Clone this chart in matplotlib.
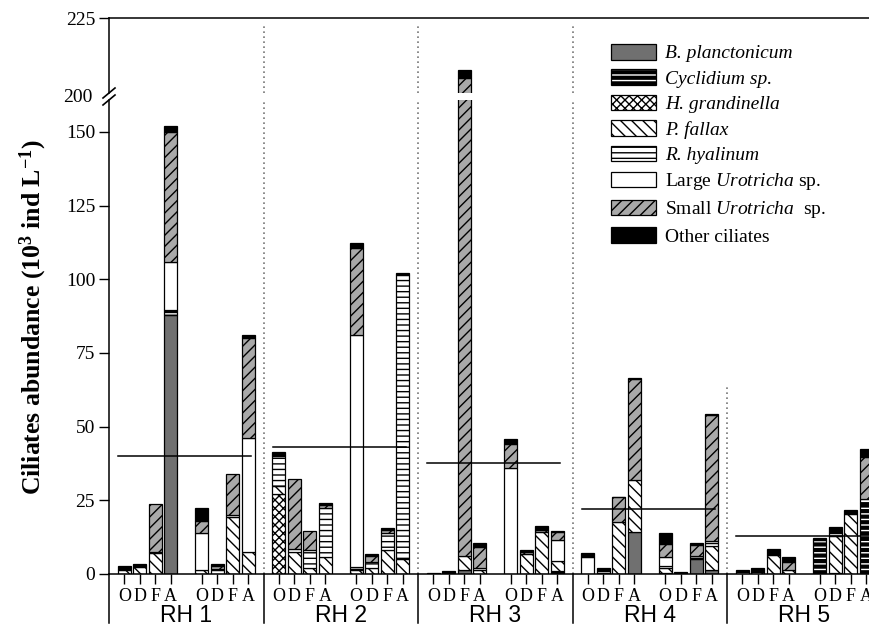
import numpy as np
import matplotlib as mpl
mpl.use('Agg')
import matplotlib.pyplot as plt
from matplotlib.patches import Patch
from matplotlib.lines import Line2D

plt.rcParams['font.family'] = 'Liberation Serif'
plt.rcParams['mathtext.fontset'] = 'custom'
plt.rcParams['mathtext.rm'] = 'Liberation Serif'
plt.rcParams['mathtext.it'] = 'Liberation Serif:italic'
plt.rcParams['mathtext.bf'] = 'Liberation Serif:bold'
plt.rcParams['hatch.linewidth'] = 1.0

# data: 5 sites x 2 sets x (O, D, F, A), in 10^3 ind/L
groups = ['RH 1', 'RH 2', 'RH 3', 'RH 4', 'RH 5']
months = ['O', 'D', 'F', 'A']
b_planctonicum = [0, 0, 0, 88, 0, 0, 0, 0, 0, 0, 0, 0, 0, 0, 0, 0, 0, 0, 1.2, 0,
                  0, 0, 0, 0.5, 0, 0, 0, 14.4, 0.5, 0, 5, 1.5, 0, 0, 0, 0, 0, 0, 0, 0]
cyclidium = [0, 0, 0, 1.5, 0, 0, 0, 0, 0, 0, 0, 0, 0, 0, 0, 0, 0, 0, 0, 0,
             0, 0, 0, 0.5, 0, 0, 0, 0, 0, 0, 0, 0, 0, 0, 0, 0, 11.5, 0.5, 0, 24]
h_grandinella = [0, 0, 0, 0, 0, 0, 0, 0, 27, 0, 0, 0, 0, 0, 0, 0, 0, 0, 0, 0,
                 0, 0, 0, 0, 0, 0, 0, 0, 0, 0, 0, 0, 0, 0, 0, 0, 0, 0, 0, 0]
p_fallax = [1.5, 2.3, 7, 0, 1.5, 0, 19.5, 7.5, 3, 7.5, 2, 5.9, 1.5, 2, 8, 5, 0, 0, 5, 1.5,
            0, 6.7, 14.3, 3.3, 0, 0, 17.5, 17.6, 1.5, 0, 0, 8, 0, 0.6, 6.5, 1.5, 0, 12.5, 20.3, 0]
r_hyalinum = [0, 0, 0, 0, 0, 1.5, 0, 0, 10, 1, 6, 16.4, 1, 2, 6, 96.5, 0, 0, 0, 0,
              0, 0, 0, 0, 0, 0.5, 0, 0, 0.8, 0, 1, 1, 0.8, 0, 0, 0, 0, 1, 0, 1.5]
large_uro = [0, 0, 0.6, 16.5, 12.5, 0.3, 0.5, 38.5, 0, 0, 0, 0, 78.5, 0, 0, 0, 0, 0, 0, 0.5,
             36, 0, 0, 7.3, 5.8, 0.5, 0, 0, 3, 0, 0, 0.8, 0, 0, 0, 0, 0, 0, 0, 0]
small_uro = [0.3, 0.4, 16.2, 44, 4, 1, 13.8, 34, 0.3, 23.6, 6.6, 1.2, 29.5, 2, 1, 0, 0, 0, 200, 7,
             8.2, 0.8, 0.6, 2.5, 0, 0, 8.5, 34, 4.5, 0, 3.8, 42.5, 0, 0, 0, 2.5, 0, 0, 0, 14.3]
other = [1.0, 0.6, 0, 2, 4.5, 0.5, 0, 1, 1.2, 0, 0, 0.7, 1.8, 0.7, 0.5, 0.5, 0.4, 1.0, 2.5, 1.6,
         1.5, 0.6, 1.5, 0.5, 1.4, 0.9, 0.2, 0.5, 3.5, 0.8, 0.6, 0.5, 0.4, 1.5, 1.9, 1.9, 0.7, 2, 1.4, 2.5]
means = [40, 43, 37.5, 22, 13]

species = [b_planctonicum, cyclidium, h_grandinella, p_fallax, r_hyalinum, large_uro, small_uro, other]
labels = ['B. planctonicum', 'Cyclidium sp.', 'H. grandinella', 'P. fallax', 'R. hyalinum',
          'Large $Urotricha$ sp.', 'Small $Urotricha$  sp.', 'Other ciliates']
styles = [('#707070', ''), ('black', '---'), ('white', 'xxxx'), ('white', '\\\\\\'),
          ('white', '---'), ('white', ''), ('#a9a9a9', '///'), ('black', '')]

# bar positions: each site spans 10 units, two sets of 4 bars
xpos = np.array([10 * g + 1 + 5 * s + k for g in range(5) for s in range(2) for k in range(4)])
width = 0.84

W, H = 869, 628
fig = plt.figure(figsize=(W / 100, H / 100), dpi=100)


def px(x0, y0, x1, y1):
    return [x0 / W, 1 - y1 / H, (x1 - x0) / W, (y1 - y0) / H]


ax = fig.add_axes(px(109, 100, 881.5, 574))
top = fig.add_axes(px(109, 18, 881.5, 93))
ax.set_ylim(0, 474 / 2.947)
top.set_ylim(225 - 75 / 3.2, 225)
for a in (ax, top):
    a.set_xlim(0, 50)


def draw(a):
    bottom = np.zeros(len(xpos))
    for i, (vals, (fc, hatch)) in enumerate(zip(species, styles)):
        vals = np.array(vals, dtype=float)
        m = vals > 0
        if i == 1:
            a.bar(xpos[m], vals[m], width, bottom[m], color='black', edgecolor='white',
                  hatch=hatch, lw=0, zorder=2)
            a.bar(xpos[m], vals[m], width, bottom[m], fill=False, edgecolor='black',
                  lw=0.9, zorder=2)
        else:
            a.bar(xpos[m], vals[m], width, bottom[m], color=fc, edgecolor='black',
                  hatch=hatch, lw=0.9, zorder=2)
        bottom += vals


draw(ax)
draw(top)

# mean lines
for g, mval in enumerate(means):
    ax.plot([10 * g + 0.6, 10 * g + 9.2], [mval, mval], color='black', lw=1.1, zorder=3)

# dotted separators
for xs in (10, 20, 30):
    ax.axvline(xs, color='#777777', ls=(0, (1, 2)), lw=1.2, zorder=1)
    top.axvline(xs, ymax=0.93, color='#777777', ls=(0, (1, 2)), lw=1.2, zorder=1)
ax.axvline(40, ymax=64 / ax.get_ylim()[1], color='#777777', ls=(0, (1, 2)), lw=1.2, zorder=1)

# spines
ax.spines['top'].set_visible(False)
ax.spines['right'].set_visible(False)
top.spines['bottom'].set_visible(False)
top.spines['right'].set_visible(False)
for a in (ax, top):
    for s in a.spines.values():
        s.set_linewidth(1.1)

ax.set_yticks([0, 25, 50, 75, 100, 125, 150])
ax.tick_params(axis='y', direction='out', length=7, width=1, labelsize=14, pad=3)
top.set_yticks([225])
top.tick_params(axis='y', direction='out', length=7, width=1, labelsize=14, pad=3)
top.set_xticks([])
top.text(-0.022, 200, '200', transform=top.get_yaxis_transform(), ha='right', va='center',
         fontsize=14, clip_on=False)

ax.set_xticks(xpos)
ax.set_xticklabels(months * 10)
ax.tick_params(axis='x', direction='out', length=7, width=1, labelsize=13, pad=3)

# group separators under the axis and site names
for xs in (0, 10, 20, 30, 40):
    ax.plot([xs, xs], [0, -0.103], transform=ax.get_xaxis_transform(), color='black',
            lw=1.1, clip_on=False)
for g, name in enumerate(groups):
    ax.text(10 * g + 5, -0.088, name, transform=ax.get_xaxis_transform(), ha='center',
            va='center', fontsize=16.5, family='Liberation Sans')

# axis break marks
for dy in (0, 7):
    fig.add_artist(Line2D([103 / W, 115 / W], [1 - (98 + dy) / H, 1 - (88 + dy) / H],
                          color='black', lw=1.2))

fig.text(33 / W, 1 - 317 / H,
         r'Ciliates abundance (10$^{\mathbf{3}}$ ind L$^{\mathbf{-1}}$)',
         rotation=90, ha='center', va='center', fontsize=18.5, fontweight='bold')

handles = []
for i, (fc, hatch) in enumerate(styles):
    if i == 1:
        handles.append((Patch(facecolor='black', edgecolor='white', hatch=hatch, lw=0),
                        Patch(fill=False, edgecolor='black', lw=0.9)))
    else:
        handles.append(Patch(facecolor=fc, edgecolor='black', hatch=hatch, lw=0.9))
leg = fig.legend(handles, labels, loc='upper left', bbox_to_anchor=(611 / W, 1 - 44 / H),
                 frameon=False, fontsize=14, handlelength=2.3, handleheight=0.85,
                 labelspacing=0.36, handletextpad=0.5, borderpad=0, borderaxespad=0)
for t in leg.get_texts()[:5]:
    t.set_fontstyle('italic')

plt.savefig('out.png', dpi=100)
